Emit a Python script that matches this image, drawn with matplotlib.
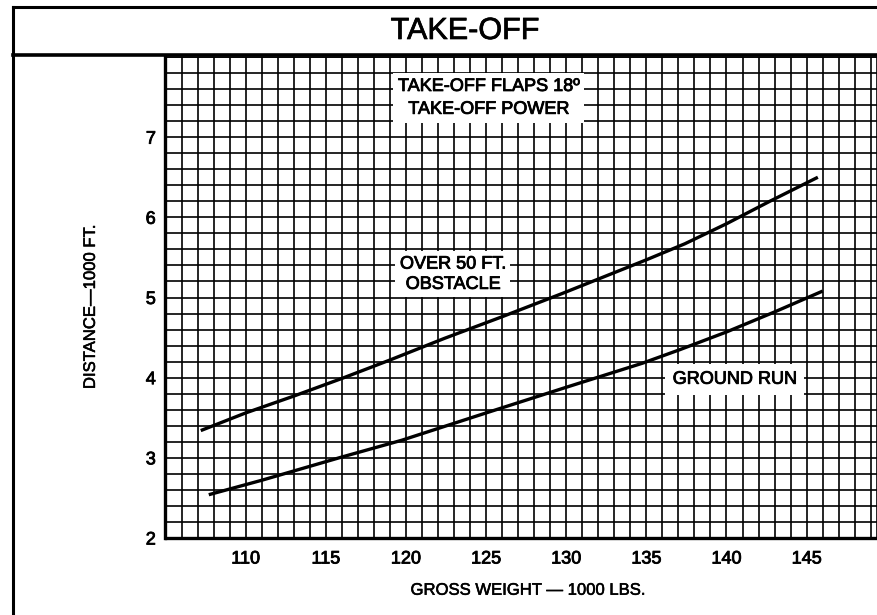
import matplotlib
matplotlib.use("Agg")
import matplotlib.pyplot as plt
from matplotlib.lines import Line2D
from matplotlib.ticker import MultipleLocator, FixedLocator
import matplotlib.patheffects as pe

plt.rcParams['font.family'] = ['Liberation Sans', 'DejaVu Sans']

# Data (gross weight in 1000 lbs, distance in 1000 ft)
obstacle_weight = [107.2, 110.0, 113.0, 116.0, 119.0, 122.4, 126.0, 129.75, 135.0, 137.4, 140.0, 142.7, 145.7]
obstacle_dist = [3.34, 3.56, 3.77, 3.99, 4.22, 4.49, 4.76, 5.05, 5.47, 5.67, 5.92, 6.20, 6.50]

ground_weight = [107.7, 111.0, 116.0, 119.75, 125.0, 130.0, 134.75, 137.1, 140.0, 143.0, 146.0]
ground_dist = [2.54, 2.72, 3.01, 3.22, 3.56, 3.88, 4.18, 4.35, 4.57, 4.82, 5.08]

x_ticks = [110, 115, 120, 125, 130, 135, 140, 145]
y_ticks = [2, 3, 4, 5, 6, 7]

title_text = "TAKE-OFF"
x_label = "GROSS WEIGHT \u2014 1000 LBS."
y_label = "DISTANCE\u20141000 FT."
note_conditions = "TAKE-OFF FLAPS 18\u00ba\nTAKE-OFF POWER"
note_obstacle = "OVER 50 FT.\nOBSTACLE"
note_ground = "GROUND RUN"

W, H = 878, 615
fig = plt.figure(figsize=(W / 100, H / 100), dpi=100)
fig.patch.set_facecolor('white')

thick = [pe.withStroke(linewidth=0.6, foreground='black')]

left_px, right_px, top_px, bottom_px = 165.5, 877.0, 57.0, 538.0
ax = fig.add_axes([left_px / W, 1 - bottom_px / H,
                   (right_px - left_px) / W, (bottom_px - top_px) / H])

ax.set_xlim(105, 149.39)
ax.set_ylim(2, 8)

# grid
ax.xaxis.set_major_locator(FixedLocator(x_ticks))
ax.xaxis.set_minor_locator(MultipleLocator(1))
ax.yaxis.set_major_locator(FixedLocator(y_ticks))
ax.yaxis.set_minor_locator(MultipleLocator(0.2))
ax.grid(which='both', color='black', linewidth=1.2, zorder=1)
ax.set_axisbelow(True)
ax.tick_params(which='both', length=0)
ax.tick_params(axis='x', labelsize=13, pad=9)
ax.tick_params(axis='y', labelsize=13, pad=7)
for lab in ax.get_xticklabels() + ax.get_yticklabels():
    lab.set_path_effects(thick)

for s in ['left', 'bottom']:
    ax.spines[s].set_linewidth(2.4)
for s in ['top', 'right']:
    ax.spines[s].set_linewidth(1.2)

# curves
ax.plot(obstacle_weight, obstacle_dist, color='black', linewidth=2.4,
        solid_capstyle='butt', solid_joinstyle='round', zorder=3)
ax.plot(ground_weight, ground_dist, color='black', linewidth=2.4,
        solid_capstyle='butt', solid_joinstyle='round', zorder=3)

ax.text(125.15, 7.49, note_conditions, ha='center', va='center', fontsize=13,
        linespacing=1.45, path_effects=thick,
        bbox=dict(boxstyle='square,pad=0.3', facecolor='white', edgecolor='none'),
        zorder=4)
ax.text(122.93, 5.29, note_obstacle, ha='center', va='center', fontsize=13,
        linespacing=1.25, path_effects=thick,
        bbox=dict(boxstyle='square,pad=0.25', facecolor='white', edgecolor='none'), zorder=4)
ax.text(140.52, 3.98, note_ground, ha='center', va='center', fontsize=13,
        path_effects=thick,
        bbox=dict(boxstyle='square,pad=0.4', facecolor='white', edgecolor='none'), zorder=4)

ax.set_xlabel(x_label, fontsize=12)
ax.set_ylabel(y_label, fontsize=12)
ax.xaxis.set_label_coords(0.509, -0.093)
ax.yaxis.set_label_coords(-0.095, 0.48)
ax.xaxis.label.set_path_effects([pe.withStroke(linewidth=0.4, foreground='black')])
ax.yaxis.label.set_path_effects([pe.withStroke(linewidth=0.4, foreground='black')])

# header frame
fx = 13 / W
fig.add_artist(Line2D([fx, 1], [1 - 7 / H, 1 - 7 / H], color='black', linewidth=2.2))
fig.add_artist(Line2D([fx, fx], [0, 1 - 7 / H], color='black', linewidth=2.2))
fig.add_artist(Line2D([fx, 1], [1 - 54.5 / H, 1 - 54.5 / H], color='black', linewidth=2.6))
fig.text(465 / W, 1 - 31 / H, title_text, ha='center', va='center', fontsize=22,
         path_effects=[pe.withStroke(linewidth=0.5, foreground='black')])

fig.savefig('out.png', dpi=100, facecolor='white')
